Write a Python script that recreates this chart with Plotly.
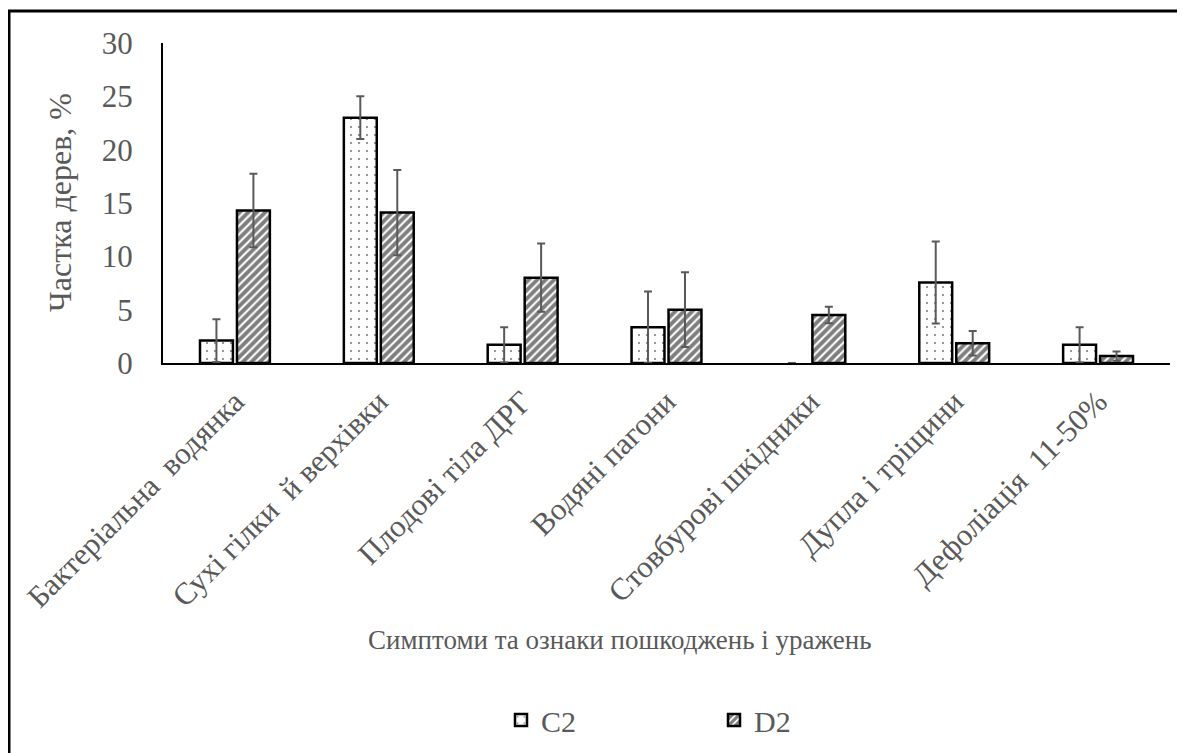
import plotly.graph_objects as go

categories = ["Бактеріальна  водянка", "Сухі гілки  й верхівки", "Плодові тіла ДРГ",
              "Водяні пагони", "Стовбурові шкідники", "Дупла і тріщини", "Дефоліація  11-50%"]
c2_values = [2.1, 23.0, 1.7, 3.35, 0, 7.55, 1.7]
c2_errors = [2.0, 2.0, 1.65, 3.35, 0, 3.85, 1.65]
d2_values = [14.3, 14.1, 8.0, 5.0, 4.5, 1.85, 0.65]
d2_errors = [3.45, 4.0, 3.2, 3.5, 0.78, 1.15, 0.43]
y_ticks = [0, 5, 10, 15, 20, 25, 30]

OFF = 8  # page body margin
W, H = 1185 - OFF, 753 - OFF
L, R, T, B = 163 - OFF, 15, 43 - OFF, 390
PW, PH = W - L - R, H - T - B

def px_x(x):
    return (x - OFF - L) / PW

def px_y(y):
    return (H - B - (y - OFF)) / PH

FONT = "Liberation Serif"
GRAY = "#595959"

c2_line_w = [2.5 if v > 0 else 0 for v in c2_values]

fig = go.Figure()
fig.add_trace(go.Bar(
    name="C2", x=categories, y=c2_values,
    marker=dict(color="white", line=dict(color="black", width=c2_line_w),
                pattern=dict(shape=".", fgcolor="black", bgcolor="white", size=8, solidity=0.06)),
    error_y=dict(type="data", array=c2_errors, visible=True, color=GRAY, thickness=2, width=4),
))
fig.add_trace(go.Bar(
    name="D2", x=categories, y=d2_values,
    marker=dict(color="white", line=dict(color="black", width=2.5),
                pattern=dict(shape="/", fgcolor="black", bgcolor="white", size=6, solidity=0.65)),
    error_y=dict(type="data", array=d2_errors, visible=True, color=GRAY, thickness=2, width=4),
))

fig.update_layout(
    width=W, height=H,
    margin=dict(l=L, r=R, t=T, b=B, autoexpand=False),
    paper_bgcolor="white", plot_bgcolor="white",
    barmode="group", bargap=0.486, bargroupgap=0.11,
    font=dict(family=FONT, color=GRAY, size=28),
    showlegend=True,
    legend=dict(orientation="h", x=px_x(501), xanchor="left", y=px_y(720), yanchor="middle",
                font=dict(family=FONT, size=30, color=GRAY),
                entrywidth=168, entrywidthmode="pixels", bgcolor="rgba(0,0,0,0)"),
    xaxis=dict(showline=True, linecolor="black", linewidth=2, showgrid=False, ticks="",
               tickangle=-45, ticklabelstandoff=6,
               tickfont=dict(family=FONT, size=31, color=GRAY), automargin=False),
    yaxis=dict(range=[0, 30], tickvals=y_ticks, showline=True, linecolor="black", linewidth=2,
               showgrid=False, zeroline=False, ticks="", ticklabelstandoff=22,
               tickfont=dict(family=FONT, size=31, color=GRAY), automargin=False),
)

fig.add_annotation(text="Частка дерев, %", xref="paper", yref="paper", x=px_x(60), y=0.5,
                   textangle=-90, showarrow=False, xanchor="center", yanchor="middle",
                   font=dict(family=FONT, size=32, color=GRAY))
fig.add_annotation(text="Симптоми та ознаки пошкоджень і уражень", xref="paper", yref="paper",
                   x=px_x(620), y=px_y(640), showarrow=False, xanchor="center", yanchor="middle",
                   font=dict(family=FONT, size=27, color=GRAY))

fig.add_shape(type="rect", xref="paper", yref="paper", x0=px_x(9), x1=px_x(1300),
              y0=px_y(11), y1=px_y(900), line=dict(color="black", width=3), layer="above")

fig.write_html("out.html")
